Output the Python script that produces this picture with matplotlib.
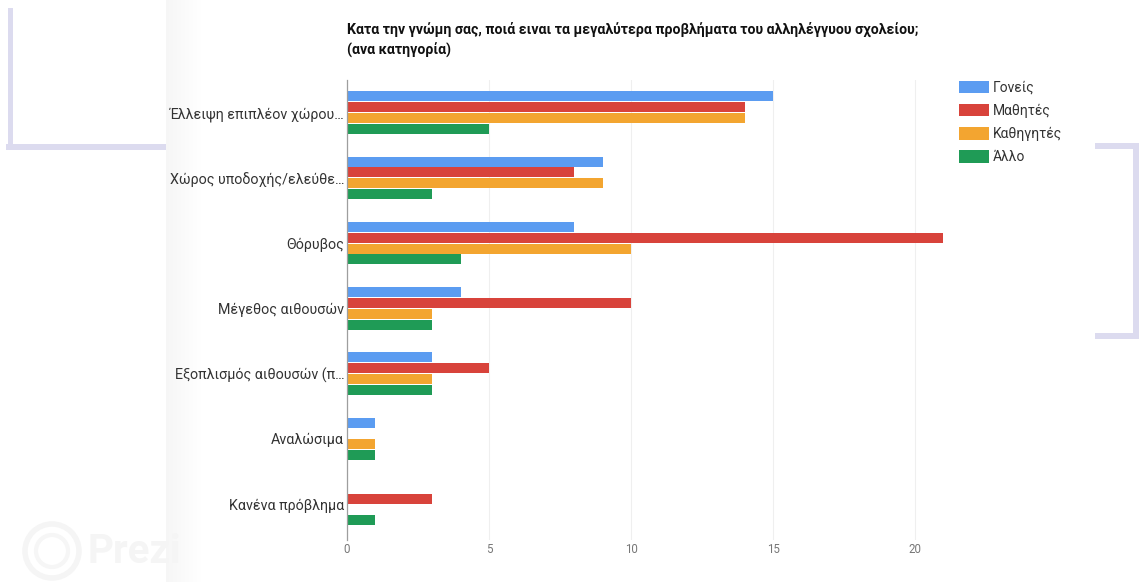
import numpy as np
import matplotlib.pyplot as plt
from matplotlib.patches import Rectangle, Circle

plt.rcParams['font.family'] = ['Roboto', 'DejaVu Sans']

categories = ['Έλλειψη επιπλέον χώρου…', 'Χώρος υποδοχής/ελεύθε…', 'Θόρυβος',
              'Μέγεθος αιθουσών', 'Εξοπλισμός αιθουσών (π…', 'Αναλώσιμα', 'Κανένα πρόβλημα']
series = ['Γονείς', 'Μαθητές', 'Καθηγητές', 'Άλλο']
goneis = [15, 9, 8, 4, 3, 1, 0]
mathites = [14, 8, 21, 10, 5, 0, 3]
kathigites = [14, 9, 10, 3, 3, 1, 0]
allo = [5, 3, 4, 3, 3, 1, 1]
colors = ['#5b9cf1', '#d8433b', '#f3a530', '#1f9b56']
xticks = [0, 5, 10, 15, 20]
title = 'Κατα την γνώμη σας, ποιά ειναι τα μεγαλύτερα προβλήματα του αλληλέγγυου σχολείου;\n(ανα κατηγορία)'

W, H = 1139, 582
fig = plt.figure(figsize=(W / 100, H / 100), dpi=100)
fig.patch.set_facecolor('white')

# background slide: lavender frame pieces, soft shadow, watermark
bg = fig.add_axes([0, 0, 1, 1])
bg.set_xlim(0, W)
bg.set_ylim(H, 0)
bg.axis('off')
lav = '#dcdbef'
bg.add_patch(Rectangle((8, 8), 5, 140, color=lav, lw=0))
bg.add_patch(Rectangle((6, 144), 160, 6, color=lav, lw=0))
bg.add_patch(Rectangle((1095, 143), 44, 6, color=lav, lw=0))
bg.add_patch(Rectangle((1133, 143), 6, 196, color=lav, lw=0))
bg.add_patch(Rectangle((1095, 333), 44, 6, color=lav, lw=0))
shade = np.linspace(0.962, 1.0, 40)[None, :]
bg.imshow(np.repeat(shade, 2, axis=0), cmap='gray', vmin=0, vmax=1,
          extent=(166, 206, H, 0), aspect='auto', zorder=1)
bg.add_patch(Circle((52, 551), 27, fill=False, ec='#f5f5f5', lw=4))
bg.add_patch(Circle((52, 551), 16, fill=False, ec='#f6f6f6', lw=3))
bg.text(88, 552, 'Prezi', fontsize=29, fontweight='bold', color='#f5f5f5',
        va='center', ha='left')

fig.text(347 / W, 1 - 22 / H, title, fontsize=10.2, fontweight='bold',
         color='#111111', va='top', ha='left', linespacing=1.45)

x0, y0, y1 = 347, 80, 540
ppu = 28.4
xmax = 21.3
ax = fig.add_axes([x0 / W, 1 - y1 / H, xmax * ppu / W, (y1 - y0) / H])
ax.set_facecolor('none')

y = np.arange(len(categories))
h = 0.166
values = [goneis, mathites, kathigites, allo]
for i, (name, vals) in enumerate(zip(series, values)):
    ax.barh(y + (i - 1.5) * h, vals, height=h * 0.92, color=colors[i], label=name, zorder=3)

ax.set_xlim(0, xmax)
ax.set_ylim(6.55, -0.5)
ax.set_yticks(y)
ax.set_yticklabels(categories, fontsize=10.3, color='#333333')
ax.set_xticks(xticks)
ax.set_xticklabels([str(t) for t in xticks], fontsize=8.3, color='#777777')
ax.tick_params(axis='both', length=0, pad=2)
ax.tick_params(axis='x', pad=2)
ax.grid(axis='x', color='#efefef', lw=0.8, zorder=0)
for s in ['top', 'right', 'bottom']:
    ax.spines[s].set_visible(False)
ax.spines['left'].set_color('#9e9e9e')
ax.spines['left'].set_linewidth(0.9)
ax.spines['left'].set_zorder(4)

ax.legend(loc='upper left', bbox_to_anchor=(946 / W, 1 - 68 / H), bbox_transform=fig.transFigure,
          frameon=False, fontsize=10, handlelength=2.2, handleheight=1.0,
          labelspacing=0.66, handletextpad=0.3, labelcolor='#333333')

fig.savefig('out.png', dpi=100)
